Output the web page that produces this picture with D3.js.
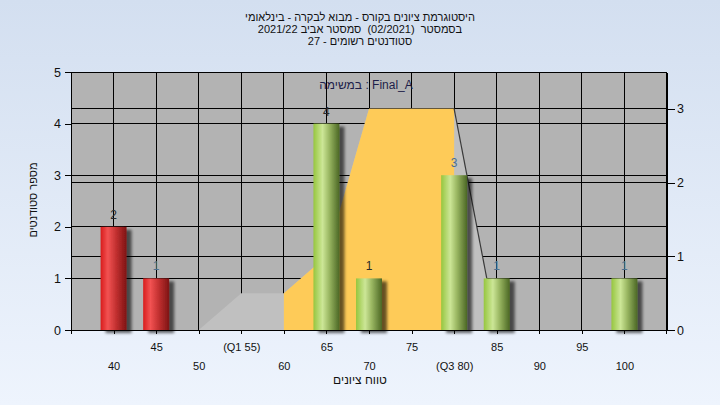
<!DOCTYPE html>
<html><head><meta charset="utf-8">
<script src="https://cdn.jsdelivr.net/npm/d3@7"></script>
<style>
html,body{margin:0;padding:0;background:#e6eef8;}
svg{display:block;font-family:"Liberation Sans",Arial,sans-serif;}
text{white-space:pre;}
</style></head>
<body><svg id="chart" width="720" height="405"></svg>
<script>
// ---- data ----
const titleLines = ["היסטוגרמת ציונים בקורס - מבוא לבקרה - בינלאומי", "בסמסטר  (02/2021)  סמסטר אביב 2021/22", "סטודנטים רשומים - 27"];
const categories = [40, 45, 50, 55, 60, 65, 70, 75, 80, 85, 90, 95, 100];
const tickLabels = ["40", "45", "50", "(Q1 55)", "60", "65", "70", "75", "(Q3 80)", "85", "90", "95", "100"];
const counts = [2, 1, 0, 0, 0, 4, 1, 0, 3, 1, 0, 0, 1];
const passGrade = 55;
const distCats = [50, 55, 60, 65, 70, 75, 80, 85];
const distVals = [0, 0.5, 0.5, 1, 3, 3, 3, 0];
const highlightRange = [60, 80];
const legendText = "במשימה : Final_A";
const yLeftTicks = [0, 1, 2, 3, 4, 5];
const yRightTicks = [0, 1, 2, 3];
const yTitle = "מספר סטודנטים";
const xTitle = "טווח ציונים";

// ---- layout ----
const svg = d3.select("#chart");
const L = 71, R = 667, T = 72, B = 330;
const x = d3.scaleLinear().domain([35, 105]).range([L, R]);
const yL = d3.scaleLinear().domain([0, 5]).range([B, T]);
const yR = d3.scaleLinear().domain([0, 3.5]).range([B, T]);
const bw = (x(40) - x(35)) * 0.61;

const defs = svg.append("defs");
const bg = defs.append("linearGradient").attr("id", "bg").attr("x1", 0).attr("y1", 0).attr("x2", 0).attr("y2", 1);
bg.append("stop").attr("offset", 0).attr("stop-color", "#d3dff0");
bg.append("stop").attr("offset", 1).attr("stop-color", "#eef4fd");
function cyl(id, stops) {
  const g = defs.append("linearGradient").attr("id", id).attr("x1", 0).attr("y1", 0).attr("x2", 1).attr("y2", 0);
  stops.forEach(s => g.append("stop").attr("offset", s[0]).attr("stop-color", s[1]));
}
cyl("green", [[0, "#96c63e"], [0.35, "#cce697"], [0.6, "#9bb863"], [1, "#4b6724"]]);
cyl("red", [[0, "#d81c1c"], [0.28, "#f25252"], [0.6, "#c23030"], [1, "#7e1414"]]);
const f = defs.append("filter").attr("id", "sh").attr("x", "-20%").attr("y", "-10%").attr("width", "160%").attr("height", "130%");
f.append("feGaussianBlur").attr("in", "SourceAlpha").attr("stdDeviation", 1.8).attr("result", "b");
f.append("feOffset").attr("in", "b").attr("dx", 5).attr("dy", 3).attr("result", "o");
f.append("feComponentTransfer").attr("in", "o").attr("result", "oo")
  .append("feFuncA").attr("type", "linear").attr("slope", 0.6);
const m = f.append("feMerge");
m.append("feMergeNode").attr("in", "oo");
m.append("feMergeNode").attr("in", "SourceGraphic");

svg.append("rect").attr("width", 720).attr("height", 405).attr("fill", "url(#bg)");

// title
svg.append("g").selectAll("text").data(titleLines).join("text")
  .attr("x", 360).attr("y", (d, i) => 21 + i * 12)
  .attr("text-anchor", "middle").attr("direction", "rtl")
  .attr("font-size", 11).attr("fill", "#111").text(d => d);

// plot bg
svg.append("rect").attr("x", L).attr("y", T).attr("width", R - L).attr("height", B - T).attr("fill", "#b3b3b3");

// gridlines
const grid = svg.append("g").attr("stroke", "#000").attr("stroke-width", 1).attr("shape-rendering", "crispEdges");
grid.selectAll(".v").data(categories).join("line")
  .attr("x1", d => x(d)).attr("x2", d => x(d)).attr("y1", T).attr("y2", B);
grid.selectAll(".hl").data(yLeftTicks.slice(1, -1)).join("line")
  .attr("x1", L).attr("x2", R).attr("y1", d => yL(d)).attr("y2", d => yL(d));
grid.selectAll(".hr").data(yRightTicks.slice(1)).join("line")
  .attr("x1", L).attr("x2", R).attr("y1", d => yR(d)).attr("y2", d => yR(d));

// distribution area
const dist = distCats.map((c, i) => ({c, v: distVals[i]}));
const area = d3.area().x(d => x(d.c)).y0(B).y1(d => yR(d.v));
svg.append("path").datum(dist).attr("d", area).attr("fill", "#c0c0c0");
const hi = dist.filter(d => d.c >= highlightRange[0] && d.c <= highlightRange[1]);
svg.append("path").datum(hi).attr("d", area).attr("fill", "#fecb58");
const tail = dist.filter(d => d.c >= highlightRange[1]);
svg.append("path").datum(tail).attr("d", d3.line().x(d => x(d.c)).y(d => yR(d.v)))
  .attr("fill", "none").attr("stroke", "#3a3a3a").attr("stroke-width", 1.2);

// legend text
svg.append("text").attr("x", 366).attr("y", 89).attr("text-anchor", "middle").attr("direction", "ltr")
  .attr("font-size", 12).attr("fill", "#1e1e4a").text(legendText);

// bars
const bars = categories.map((c, i) => ({c, v: counts[i]})).filter(d => d.v > 0);
svg.append("g").selectAll("rect").data(bars).join("rect")
  .attr("x", d => x(d.c) - bw / 2).attr("width", bw)
  .attr("y", d => yL(d.v)).attr("height", d => B - yL(d.v))
  .attr("fill", d => d.c < passGrade ? "url(#red)" : "url(#green)")
  .attr("filter", "url(#sh)");
svg.append("g").selectAll("text").data(bars).join("text")
  .attr("x", d => x(d.c)).attr("y", d => yL(d.v) - 8)
  .attr("text-anchor", "middle").attr("font-size", 12)
  .attr("fill", d => (d.v === 3 || (d.v === 1 && d.c !== 70)) ? "#4a6f90" : "#2a2a2a")
  .text(d => d.v);

// frame
svg.append("rect").attr("x", L + 0.5).attr("y", T + 0.5).attr("width", R - L - 1).attr("height", B - T)
  .attr("fill", "none").attr("stroke", "#000").attr("shape-rendering", "crispEdges");

// axes
const fmt = d3.format("d");
const axL = svg.append("g").attr("transform", `translate(${L},0)`)
  .call(d3.axisLeft(yL).tickValues(yLeftTicks).tickFormat(fmt).tickSize(6).tickSizeOuter(0).tickPadding(4));
const axR = svg.append("g").attr("transform", `translate(${R},0)`)
  .call(d3.axisRight(yR).tickValues(yRightTicks).tickFormat(fmt).tickSize(8).tickSizeOuter(0).tickPadding(2));
[axL, axR].forEach(a => {
  a.selectAll("text").attr("font-size", 12.5).attr("fill", "#111").attr("font-family", "Liberation Sans, Arial, sans-serif");
  a.selectAll("line,path").attr("stroke", "#000").attr("shape-rendering", "crispEdges");
});
const axB = svg.append("g").attr("transform", `translate(0,${B})`)
  .call(d3.axisBottom(x).tickValues(categories).tickSize(4).tickSizeOuter(0)
    .tickFormat((d, i) => tickLabels[i]));
axB.selectAll("text").attr("font-size", 11).attr("fill", "#111").attr("direction", "ltr")
  .attr("font-family", "Liberation Sans, Arial, sans-serif")
  .attr("y", (d, i) => i % 2 ? 13 : 32);
axB.selectAll("line,path").attr("stroke", "#000").attr("shape-rendering", "crispEdges");
// edge ticks
svg.append("g").attr("stroke", "#000").attr("shape-rendering", "crispEdges").selectAll("line")
  .data([L + 0.5, R - 0.5]).join("line").attr("x1", d => d).attr("x2", d => d).attr("y1", B).attr("y2", B + 4);

// axis titles
svg.append("text").attr("transform", "translate(37,200) rotate(-90)").attr("text-anchor", "middle")
  .attr("direction", "rtl").attr("font-size", 11).attr("fill", "#111").text(yTitle);
svg.append("text").attr("x", 360).attr("y", 384).attr("text-anchor", "middle")
  .attr("direction", "rtl").attr("font-size", 12).attr("fill", "#111").text(xTitle);
</script></body></html>
